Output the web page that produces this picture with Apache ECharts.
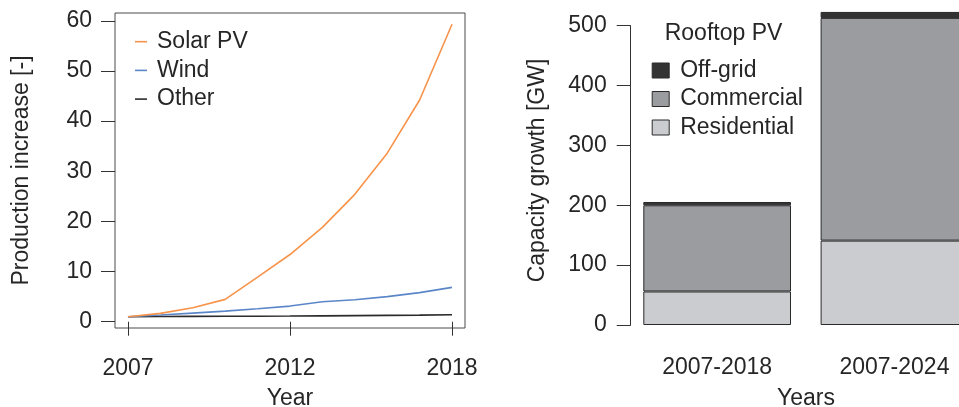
<!DOCTYPE html>
<html>
<head>
<meta charset="utf-8">
<script src="https://cdn.jsdelivr.net/npm/echarts@6/dist/echarts.min.js"></script>
<style>
  html, body { margin: 0; padding: 0; background: #ffffff; }
  #chart { width: 959px; height: 407px; }
</style>
</head>
<body>
<div id="chart"></div>
<script>
// Left panel: production increase relative to the first period
const periods = [1, 2, 3, 4, 5, 6, 7, 8, 9, 10, 11];
const solarPV = [1.0, 1.67, 2.8, 4.46, 8.9, 13.4, 18.8, 25.4, 33.6, 44.2, 59.3];
const wind    = [1.0, 1.33, 1.72, 2.12, 2.6, 3.12, 3.98, 4.38, 5.0, 5.8, 6.85];
const other   = [1.0, 1.03, 1.06, 1.08, 1.1, 1.13, 1.17, 1.21, 1.26, 1.31, 1.38];
const yearTickPositions = [1, 6, 11];
const yearTickLabels = ['2007', '2012', '2018'];
const productionTicks = [0, 10, 20, 30, 40, 50, 60];

// Right panel: rooftop PV capacity growth [GW]
const spans = ['2007-2018', '2007-2024'];
const residential = [56, 141];
const commercial = [144, 372];
const offGrid = [5.5, 10];

const FONT = '"Liberation Sans", Arial, Helvetica, sans-serif';
const TXT = '#262626';
const EDGE = '#2a2a2a';

const linePairs = (vals) => vals.map((v, i) => [periods[i], v]);

const chart = echarts.init(document.getElementById('chart'), null, { renderer: 'canvas' });

const option = {
  animation: false,
  backgroundColor: '#ffffff',
  textStyle: { fontFamily: FONT, color: TXT },
  grid: [
    { left: 115, top: 13, width: 350, height: 315, show: true, borderColor: '#4a4a4a', borderWidth: 1, backgroundColor: 'transparent' },
    // the bar plot's region runs past the right edge of the page
    { left: 628.5, top: 25.7, width: 354.6, height: 299.3, outerBoundsMode: 'none' }
  ],
  xAxis: [
    {
      gridIndex: 0, type: 'value', min: 0.6, max: 11.4,
      axisLine: { show: false },
      splitLine: { show: false },
      axisTick: { show: true, length: 14, customValues: yearTickPositions, lineStyle: { color: '#333', width: 1 } },
      axisLabel: {
        customValues: yearTickPositions, margin: 29, fontSize: 23, color: TXT, fontFamily: FONT,
        formatter: (v) => yearTickLabels[yearTickPositions.indexOf(v)] || ''
      }
    },
    {
      gridIndex: 1, type: 'category', data: spans,
      axisLine: { show: false }, axisTick: { show: false }, splitLine: { show: false },
      axisLabel: { margin: 31, fontSize: 23, color: TXT, fontFamily: FONT }
    }
  ],
  yAxis: [
    {
      gridIndex: 0, type: 'value', min: -1.25, max: 61.55,
      axisLine: { show: false },
      splitLine: { show: false },
      axisTick: { show: true, length: 14, customValues: productionTicks, lineStyle: { color: '#333', width: 1 } },
      axisLabel: { customValues: productionTicks, margin: 23, fontSize: 23, color: TXT, fontFamily: FONT }
    },
    {
      gridIndex: 1, type: 'value', min: 0, max: 500, interval: 100, offset: -2.2,
      axisLine: { show: true, lineStyle: { color: '#333', width: 1 } },
      splitLine: { show: false },
      axisTick: { show: true, length: 14, lineStyle: { color: '#333', width: 1 } },
      axisLabel: { margin: 24, fontSize: 23, color: TXT, fontFamily: FONT }
    }
  ],
  legend: [
    {
      data: ['Solar PV', 'Wind', 'Other'],
      orient: 'vertical', left: 135, top: 30.2, padding: 0,
      icon: 'rect', itemWidth: 12, itemHeight: 1.6, itemGap: 5.7,
      textStyle: { fontSize: 23, lineHeight: 23, color: TXT, fontFamily: FONT, padding: [0, 0, 0, 5] },
      selectedMode: false
    },
    {
      data: ['Off-grid', 'Commercial', 'Residential'],
      orient: 'vertical', left: 651.7, top: 59, padding: 0,
      icon: 'rect', itemWidth: 17, itemHeight: 15, itemGap: 5.5,
      itemStyle: { borderColor: EDGE, borderWidth: 1 },
      textStyle: { fontSize: 23, lineHeight: 23, color: TXT, fontFamily: FONT, padding: [0, 0, 0, 6] },
      selectedMode: false
    }
  ],
  graphic: [
    { type: 'text', x: 22, y: 170.5, rotation: Math.PI / 2,
      style: { text: 'Production increase [-]', font: '23px ' + FONT, fill: TXT, align: 'center', verticalAlign: 'middle' } },
    { type: 'text', x: 290, y: 399,
      style: { text: 'Year', font: '23px ' + FONT, fill: TXT, align: 'center', verticalAlign: 'middle' } },
    { type: 'text', x: 538, y: 170.5, rotation: Math.PI / 2,
      style: { text: 'Capacity growth [GW]', font: '23px ' + FONT, fill: TXT, align: 'center', verticalAlign: 'middle' } },
    { type: 'text', x: 806, y: 399,
      style: { text: 'Years', font: '23px ' + FONT, fill: TXT, align: 'center', verticalAlign: 'middle' } },
    { type: 'text', x: 723.5, y: 34,
      style: { text: 'Rooftop PV', font: '23px ' + FONT, fill: TXT, align: 'center', verticalAlign: 'middle' } }
  ],
  series: [
    { name: 'Other', type: 'line', xAxisIndex: 0, yAxisIndex: 0, data: linePairs(other),
      showSymbol: false, color: '#2b2b2b', lineStyle: { color: '#2b2b2b', width: 1.6 } },
    { name: 'Wind', type: 'line', xAxisIndex: 0, yAxisIndex: 0, data: linePairs(wind),
      showSymbol: false, color: '#5b87c8', lineStyle: { color: '#5b87c8', width: 1.6 } },
    { name: 'Solar PV', type: 'line', xAxisIndex: 0, yAxisIndex: 0, data: linePairs(solarPV),
      showSymbol: false, color: '#f7934a', lineStyle: { color: '#f7934a', width: 1.6 } },
    { name: 'Residential', type: 'bar', xAxisIndex: 1, yAxisIndex: 1, stack: 'rooftop', data: residential,
      barWidth: 147.7, clip: false, color: '#cbcccf',
      itemStyle: { color: '#cbcccf', borderColor: EDGE, borderWidth: 1 } },
    { name: 'Commercial', type: 'bar', xAxisIndex: 1, yAxisIndex: 1, stack: 'rooftop', data: commercial,
      barWidth: 147.7, clip: false, color: '#9b9ca0',
      itemStyle: { color: '#9b9ca0', borderColor: EDGE, borderWidth: 1 } },
    { name: 'Off-grid', type: 'bar', xAxisIndex: 1, yAxisIndex: 1, stack: 'rooftop', data: offGrid,
      barWidth: 147.7, clip: false, color: '#333333',
      itemStyle: { color: '#333333', borderColor: EDGE, borderWidth: 1 } }
  ]
};

chart.setOption(option);
</script>
</body>
</html>
